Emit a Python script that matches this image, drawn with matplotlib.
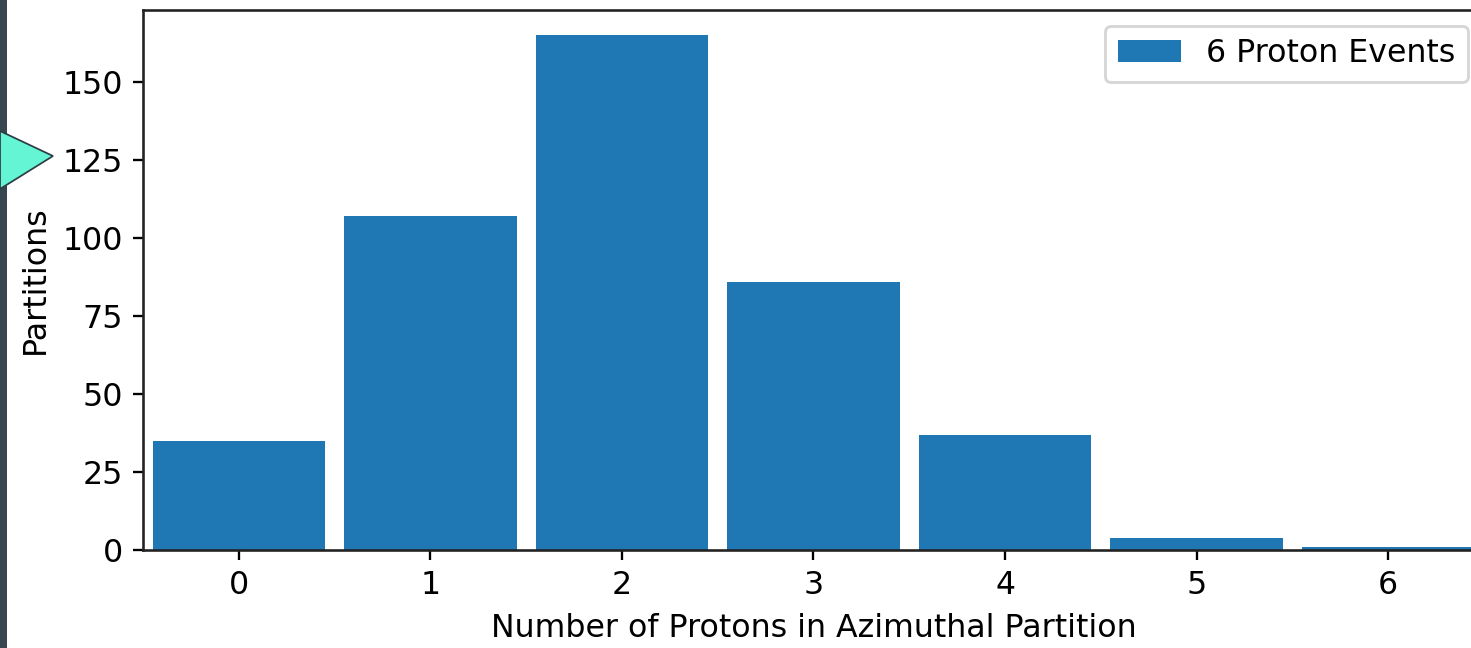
import matplotlib.pyplot as plt
from matplotlib.patches import Polygon, Rectangle

# protons dans la partition azimutale -> nombre de partitions
n_protons = [0, 1, 2, 3, 4, 5, 6]
partitions = [35, 107, 165, 86, 37, 4, 1]
label = "6 Proton Events"

plt.rcParams["font.size"] = 10.9

DPI = 209
fig = plt.figure(figsize=(1471 / DPI, 648 / DPI), dpi=DPI)
ax = fig.add_axes([0.0972, 0.1512, 0.9116, 0.8334])

ax.bar(n_protons, partitions, width=0.9, color="#1f77b4", label=label)
ax.set_xlim(-0.5, 6.5)
ax.set_ylim(0, 173)
ax.set_xticks(n_protons)
ax.set_yticks([0, 25, 50, 75, 100, 125, 150])
ax.set_xlabel("Number of Protons in Azimuthal Partition")
ax.set_ylabel("Partitions")
ax.legend(loc="upper right")
for sp in ax.spines.values():
    sp.set_color("#222222")
    sp.set_linewidth(0.9)

# bord de la diapo (bande sombre + flèche)
fig.patches.append(Rectangle((0, 0), 7 / 1471, 1, transform=fig.transFigure,
                             facecolor="#36474f", edgecolor="none"))
fig.patches.append(Polygon([(0, 1 - 131 / 648), (53 / 1471, 1 - 156 / 648), (0, 1 - 189 / 648)],
                           closed=True, transform=fig.transFigure,
                           facecolor="#64f5d4", edgecolor="#2e3d44", linewidth=0.6))

fig.savefig("out.png", dpi=DPI)
plt.close()
